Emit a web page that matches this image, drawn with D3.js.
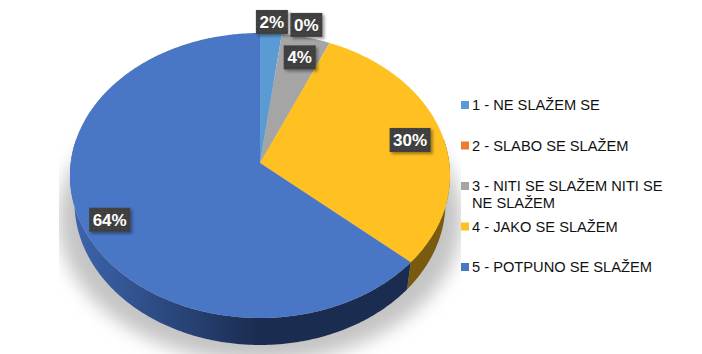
<!DOCTYPE html>
<html>
<head>
<meta charset="utf-8">
<style>
  html, body { margin: 0; padding: 0; background: #fff; }
  svg { display: block; }
  text { font-family: "Liberation Sans", Arial, sans-serif; }
</style>
<script src="https://cdn.jsdelivr.net/npm/d3@7/dist/d3.min.js"></script>
</head>
<body>
<div id="chart"></div>
<script>
const categories = ['1 - NE SLAŽEM SE', '2 - SLABO SE SLAŽEM', '3 - NITI SE SLAŽEM NITI SE|NE SLAŽEM', '4 - JAKO SE SLAŽEM', '5 - POTPUNO SE SLAŽEM'];
const shares = [2, 0, 4.5, 30, 63.5];
const shareLabels = ['2%', '0%', '4%', '30%', '64%'];
const colors = ['#5b9bd5', '#ed7d31', '#a5a5a5', '#ffc022', '#4a76c6'];

const width = 702;
const height = 354;
const cx = 260;
const cy = 163;
const rx = 189.3;
const ry = 141.4;
const persp = 0.0877; // foreshortening, near rim looks bigger
const depth = 27;

// where each label sits, relative to its slice middle
const labelRadius = [1.087, 1.07, 0.84, 0.828, 0.84];
const labelNudge = [[0, 0], [23, 0], [1, 0], [0, 2], [0, 6]];

const svg = d3.select('#chart').append('svg')
    .attr('width', width).attr('height', height)
    .attr('viewBox', `0 0 ${width} ${height}`);

const defs = svg.append('defs');
defs.append('filter').attr('id', 'pieShadow')
    .attr('x', '-20%').attr('y', '-20%').attr('width', '140%').attr('height', '140%')
    .append('feGaussianBlur').attr('stdDeviation', 9);
defs.append('clipPath').attr('id', 'shadowClip')
    .append('rect').attr('x', 59).attr('y', 0).attr('width', 402).attr('height', height);

const wallGrad = defs.append('linearGradient').attr('id', 'wallBlue')
    .attr('gradientUnits', 'userSpaceOnUse')
    .attr('x1', 70).attr('x2', 260).attr('y1', 0).attr('y2', 0);
wallGrad.append('stop').attr('offset', 0).attr('stop-color', '#3d66ae');
wallGrad.append('stop').attr('offset', 1).attr('stop-color', '#1a2c50');

const dots = defs.append('pattern').attr('id', 'labelDots')
    .attr('patternUnits', 'userSpaceOnUse').attr('width', 4).attr('height', 4);
dots.append('rect').attr('width', 4).attr('height', 4).attr('fill', '#404040');
dots.append('rect').attr('width', 1).attr('height', 1).attr('fill', '#4c4c4c');
dots.append('rect').attr('x', 2).attr('y', 2).attr('width', 1).attr('height', 1).attr('fill', '#363636');

const labelShadow = defs.append('filter').attr('id', 'labelShadow')
    .attr('x', '-20%').attr('y', '-20%').attr('width', '150%').attr('height', '150%');
labelShadow.append('feDropShadow')
    .attr('dx', 2).attr('dy', 2).attr('stdDeviation', 1.5)
    .attr('flood-color', '#000').attr('flood-opacity', 0.4);

const x = d3.scaleLinear().domain([-1, 1]).range([cx - rx, cx + rx]);
const y = d3.scaleLinear().domain([-1, 1]).range([cy + ry, cy - ry]);

// pie angle -> screen, with a simple perspective
function project(angle, r = 1) {
    const ux = Math.sin(angle);
    const uy = Math.cos(angle);
    const s = r / (1 + persp * uy);
    return [x(ux * s), y(uy * s)];
}

// same rim, pushed down for the bottom of the disc
function projectLow(angle) {
    const [px, py] = project(angle);
    return [cx + (px - cx) * 0.976, py + depth];
}

function sweep(a0, a1, fn) {
    const n = Math.max(2, Math.ceil((a1 - a0) / 0.01));
    return d3.range(n + 1).map((i) => fn(a0 + (a1 - a0) * i / n));
}

const line = d3.line();
const slices = d3.pie().sort(null).value((d) => d)(shares);

// Shadow
const full = sweep(0, 2 * Math.PI, (a) => {
    const [px, py] = project(a);
    return [cx + (px - cx) * 1.06, py + 44];
});
svg.append('g').attr('clip-path', 'url(#shadowClip)')
    .append('path')
    .attr('d', line(full) + 'Z')
    .attr('fill', '#c4c4c4')
    .attr('filter', 'url(#pieShadow)');

// Side wall, only the front part of the rim shows
const wallFrom = 80 * Math.PI / 180;
const wallTo = 280 * Math.PI / 180;
slices.forEach((d, i) => {
    const a0 = Math.max(d.startAngle, wallFrom);
    const a1 = Math.min(d.endAngle, wallTo);
    if (a1 <= a0) return;
    const pts = sweep(a0, a1, (a) => project(a)).concat(sweep(a0, a1, projectLow).reverse());
    svg.append('path')
        .attr('d', line(pts) + 'Z')
        .attr('fill', i === 4 ? 'url(#wallBlue)' : d3.rgb(colors[i]).darker(2.1))
        .attr('stroke', 'none');
});

// Top of the disc
slices.filter((d) => d.value > 0).forEach((d) => {
    const pts = [[cx, cy]].concat(sweep(d.startAngle, d.endAngle, (a) => project(a)));
    svg.append('path')
        .attr('d', line(pts) + 'Z')
        .attr('fill', colors[d.index]);
});

// Data labels
slices.forEach((d, i) => {
    const mid = (d.startAngle + d.endAngle) / 2;
    const [px, py] = project(mid, labelRadius[i]);
    const lx = px + labelNudge[i][0];
    const ly = py + labelNudge[i][1];
    const bw = shareLabels[i].length > 2 ? 41 : 32;
    const g = svg.append('g').attr('transform', `translate(${lx},${ly})`);
    g.append('rect')
        .attr('x', -bw / 2).attr('y', -12)
        .attr('width', bw).attr('height', 24)
        .attr('fill', 'url(#labelDots)')
        .attr('filter', 'url(#labelShadow)');
    g.append('text')
        .attr('text-anchor', 'middle').attr('y', 6)
        .attr('font-size', 17).attr('font-weight', 700)
        .attr('fill', '#fff')
        .text(shareLabels[i]);
});

// Legend
const legendY = d3.scalePoint().domain(categories).range([105, 267]);
const legend = svg.selectAll('g.legend').data(categories).enter().append('g')
    .attr('class', 'legend')
    .attr('transform', (d) => `translate(461,${legendY(d)})`);
legend.append('rect')
    .attr('y', -4).attr('width', 8).attr('height', 8)
    .attr('fill', (d, i) => colors[i]);
legend.append('text')
    .attr('font-size', 14.67).attr('fill', '#111')
    .selectAll('tspan').data((d) => d.split('|')).enter().append('tspan')
    .attr('x', 11)
    .attr('y', (d, i) => 5 + i * 17)
    .text((d) => d);
</script>
</body>
</html>
